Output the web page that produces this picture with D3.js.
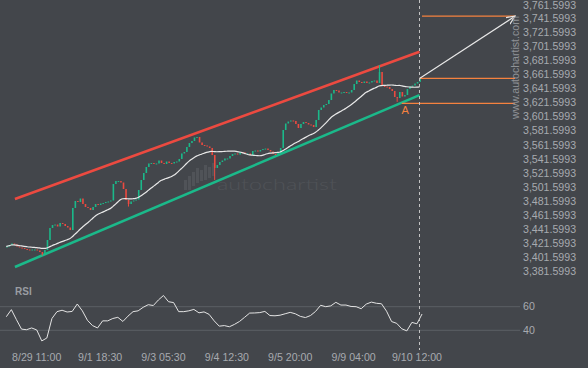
<!DOCTYPE html>
<html>
<head>
<meta charset="utf-8">
<script src="https://cdn.jsdelivr.net/npm/d3@7"></script>
<style>
  html, body { margin: 0; padding: 0; background: #43464b; }
  svg { display: block; font-family: "Liberation Sans", Arial, sans-serif; }
</style>
</head>
<body>
<svg id="chart" width="588" height="368"></svg>
<script>
// closing prices, one per bar (30 min bars, weekend gaps removed)
const closes = [
  3417.3, 3419.5, 3421.6, 3420.2, 3417.3, 3415.9, 3415.2, 3413.8, 3413.1, 3412.4,
  3413.1, 3413.1, 3411.7, 3409.5, 3406.7, 3412.4, 3426.6, 3443.6, 3447.8, 3448.5,
  3445.7, 3450.7, 3449.3, 3446.4, 3444.3, 3440.7, 3472.0, 3481.9, 3480.5, 3485.4,
  3477.6, 3473.4, 3472.0, 3469.1, 3473.4, 3477.6, 3476.2, 3478.3, 3479.0, 3480.5,
  3481.2, 3482.6, 3506.0, 3510.2, 3510.2, 3508.1, 3498.9, 3483.3, 3477.6, 3481.2,
  3482.6, 3484.0, 3497.5, 3511.7, 3521.6, 3530.1, 3535.1, 3535.8, 3534.4, 3535.1,
  3539.3, 3535.8, 3534.4, 3537.9, 3535.8, 3535.1, 3537.2, 3537.9, 3541.5, 3549.3,
  3551.4, 3558.5, 3564.1, 3567.0, 3572.0, 3572.7, 3564.9, 3561.3, 3560.6, 3559.2,
  3557.1, 3547.1, 3528.7, 3532.9, 3537.2, 3539.3, 3542.2, 3542.2, 3545.7, 3548.5,
  3549.3, 3547.8, 3551.4, 3550.7, 3549.3, 3549.3, 3547.1, 3552.8, 3553.5, 3552.1,
  3554.2, 3555.6, 3556.3, 3554.2, 3552.1, 3548.5, 3547.1, 3550.0, 3557.1, 3582.6,
  3591.8, 3594.6, 3596.1, 3595.4, 3591.1, 3585.4, 3591.1, 3593.9, 3592.5, 3590.4,
  3589.7, 3586.8, 3596.8, 3611.0, 3614.5, 3618.0, 3619.5, 3625.1, 3634.4, 3639.3,
  3638.6, 3635.8, 3635.8, 3636.5, 3635.1, 3635.8, 3639.3, 3647.8, 3652.8, 3650.7,
  3649.3, 3651.4, 3649.3, 3650.0, 3652.1, 3652.8, 3649.3, 3664.9, 3645.0, 3644.3,
  3643.6, 3640.7, 3637.9, 3629.4, 3628.0, 3636.5, 3630.1, 3632.2, 3640.7, 3644.3,
  3645.7, 3648.5, 3650.7, 3656.3
];

// long wicks visible on the chart
const spikeIndex = [14, 48, 82, 147, 154];
const spikePrice = [3404.5, 3474.0, 3511.7, 3674.8, 3622.5];

// RSI, one value every second bar
const rsiValues = [
  51.5, 57.5, 49, 41, 40.5, 42, 40.3, 31, 33.5, 50,
  55.8, 57, 55.5, 56, 62.3, 56.5, 48.5, 44, 42, 48,
  48, 50, 51, 47.5, 52, 55.8, 56.5, 59.5, 61.7, 61,
  65.7, 69.5, 64.2, 63.5, 55.8, 55.8, 56.5, 57.7, 54.8, 55.6,
  53.5, 48, 43.5, 44, 43, 45, 47.5, 51, 54.6, 54.7,
  55, 56, 52.5, 52.3, 52.8, 54, 55.2, 54, 51.8, 50.8,
  52.5, 56, 61.2, 60, 60.7, 63.7, 61.4, 61.4, 60.2, 60,
  58.3, 62.2, 63.9, 62.9, 62.5, 56.2, 47.4, 45.9, 41.3, 39.5,
  46.7, 45.5, 53.8
];
const rsiStep = 2;

const priceTicks = [
  3381.5993, 3401.5993, 3421.5993, 3441.5993, 3461.5993, 3481.5993, 3501.5993,
  3521.5993, 3541.5993, 3561.5993, 3581.5993, 3601.5993, 3621.5993, 3641.5993,
  3661.5993, 3681.5993, 3701.5993, 3721.5993, 3741.5993, 3761.5993
];
const rsiTicks = [40, 60];
const timeLabels = ["8/29 11:00", "9/1 18:30", "9/3 05:30", "9/4 12:30", "9/5 20:00", "9/9 04:00", "9/10 12:00"];
const timeLabelIndex = [12, 37, 62, 87, 112, 137, 162];

// channel and pattern levels
const upperChannel = [[3.4, 3484.7], [163, 3693.5]];
const lowerChannel = [[3.4, 3388.3], [163, 3632.1]];
const targetLevel = { from: 164, to: 200.7, price: 3744.1 };
const currentLevel = { from: 163, to: 200.7, price: 3655.8 };
const pointA = { from: 156, to: 200.7, price: 3620.4 };
const maPeriod = 20;

const svg = d3.select("#chart");
const W = 588, H = 368;
const lastIndex = closes.length - 1;

const x = d3.scaleLinear().domain([0, lastIndex]).range([6.3, 419.5]);
const y = d3.scaleLinear().domain([3381.5993, 3761.5993]).range([271.7, 3.8]);
const yR = d3.scaleLinear().domain([40, 60]).range([330.3, 306.7]);

const green = "#1bb98a", red = "#ec4a40", orange = "#f5823f";

svg.append("rect").attr("width", W).attr("height", H).attr("fill", "#43464b");

// watermark
const wm = svg.append("g").attr("fill", "#505358");
const logoBars = [[184, 180, 190], [188, 176, 190], [192, 172, 186], [196, 168, 183], [200, 170, 181], [204, 165, 180], [208, 167, 178], [212, 163, 176]];
wm.selectAll("rect").data(logoBars).join("rect")
  .attr("x", d => d[0]).attr("y", d => d[1])
  .attr("width", 3).attr("height", d => d[2] - d[1]);
wm.append("text")
  .attr("x", 217).attr("y", 190)
  .attr("textLength", 120).attr("lengthAdjust", "spacingAndGlyphs")
  .style("font-family", "Lato, 'Open Sans', sans-serif")
  .style("font-weight", 300)
  .style("font-size", "15px")
  .text("autochartist");

// price axis labels
svg.append("g").selectAll("text").data(priceTicks).join("text")
  .attr("x", 523).attr("y", d => Math.max(5, y(d))).attr("dy", "0.35em")
  .attr("fill", "#a7aaaf").style("font-size", "10.6px")
  .text(d => d3.format(",.4f")(d));

// channel lines
const line = d3.line().x(d => x(d[0])).y(d => y(d[1]));
svg.append("path").attr("d", line(upperChannel)).attr("stroke", red).attr("stroke-width", 2.6).attr("fill", "none");
svg.append("path").attr("d", line(lowerChannel)).attr("stroke", green).attr("stroke-width", 2.6).attr("fill", "none");

// candles
const bars = closes.map((c, i) => ({ i, open: i ? closes[i - 1] : c, close: c }));
const candles = svg.append("g");
candles.selectAll("line").data(spikeIndex).join("line")
  .attr("x1", (d) => x(d) + 0.5).attr("x2", (d) => x(d) + 0.5)
  .attr("y1", (d, k) => y(spikePrice[k]))
  .attr("y2", d => y(closes[d]))
  .attr("stroke", (d, k) => spikePrice[k] > closes[d] ? green : red);
candles.selectAll("rect").data(bars).join("rect")
  .attr("x", d => x(d.i) - 0.2)
  .attr("width", 1.6)
  .attr("y", d => y(Math.max(d.open, d.close)))
  .attr("height", d => Math.max(1, Math.abs(y(d.open) - y(d.close))))
  .attr("fill", d => d.close >= d.open ? green : red);

// moving average
const ma = closes.map((c, i) => {
  const win = closes.slice(Math.max(0, i - maPeriod + 1), i + 1);
  return [i, d3.mean(win)];
});
svg.append("path").attr("d", d3.line().x(d => x(d[0])).y(d => y(d[1])).curve(d3.curveMonotoneX)(ma))
  .attr("stroke", "#e8e8e8").attr("stroke-width", 1.2).attr("fill", "none");

// pattern levels
const levels = [targetLevel, currentLevel, pointA];
svg.append("g").selectAll("line").data(levels).join("line")
  .attr("x1", d => x(d.from)).attr("x2", d => x(d.to))
  .attr("y1", d => y(d.price)).attr("y2", d => y(d.price))
  .attr("stroke", orange).attr("stroke-width", 1.3);

svg.append("text")
  .attr("x", x(157.3)).attr("y", y(pointA.price) + 7).attr("dy", "0.35em")
  .attr("text-anchor", "middle").attr("fill", orange).style("font-size", "11px")
  .text("A");

// arrow to target
svg.append("defs").append("marker")
  .attr("id", "arrow").attr("viewBox", "0 0 10 10").attr("refX", 9).attr("refY", 5)
  .attr("markerWidth", 8).attr("markerHeight", 8).attr("orient", "auto")
  .append("path").attr("d", "M0,1 L9,5 L0,9").attr("fill", "none").attr("stroke", "#e8e8e8").attr("stroke-width", 1.2);
svg.append("line")
  .attr("x1", x(currentLevel.from)).attr("y1", y(currentLevel.price))
  .attr("x2", x(targetLevel.to)).attr("y2", y(targetLevel.price))
  .attr("stroke", "#e8e8e8").attr("stroke-width", 1.2).attr("marker-end", "url(#arrow)");

// site text
svg.append("text")
  .attr("transform", `translate(519,${67.5}) rotate(-90)`)
  .attr("text-anchor", "middle").attr("fill", "#8f9297").style("font-size", "10.6px")
  .text("www.autochartist.com");

// RSI panel
svg.append("g").selectAll("line").data(rsiTicks).join("line")
  .attr("x1", 0).attr("x2", 520).attr("y1", d => yR(d)).attr("y2", d => yR(d))
  .attr("stroke", "#5c5f64");
svg.append("g").selectAll("text").data(rsiTicks).join("text")
  .attr("x", 523).attr("y", d => yR(d)).attr("dy", "0.35em")
  .attr("fill", "#a7aaaf").style("font-size", "10.6px").text(d => d);
svg.append("text").attr("x", 15).attr("y", 291).attr("dy", "0.35em")
  .attr("fill", "#9a9da2").style("font-size", "10px").style("font-weight", "bold").text("RSI");
svg.append("path")
  .attr("d", d3.line().x((d, k) => x(k * rsiStep)).y(d => yR(d))(rsiValues))
  .attr("stroke", "#e4e4e4").attr("stroke-width", 1).attr("fill", "none");

// current time marker
svg.append("line")
  .attr("x1", x(lastIndex)).attr("x2", x(lastIndex)).attr("y1", 0).attr("y2", 350)
  .attr("stroke", "#c4c4c4").attr("stroke-dasharray", "3,3");

// time axis labels
svg.append("g").selectAll("text").data(timeLabels).join("text")
  .attr("x", (d, k) => x(timeLabelIndex[k])).attr("y", 357).attr("dy", "0.35em")
  .attr("text-anchor", "middle").attr("fill", "#a7aaaf").style("font-size", "10.6px")
  .text(d => d);
</script>
</body>
</html>
